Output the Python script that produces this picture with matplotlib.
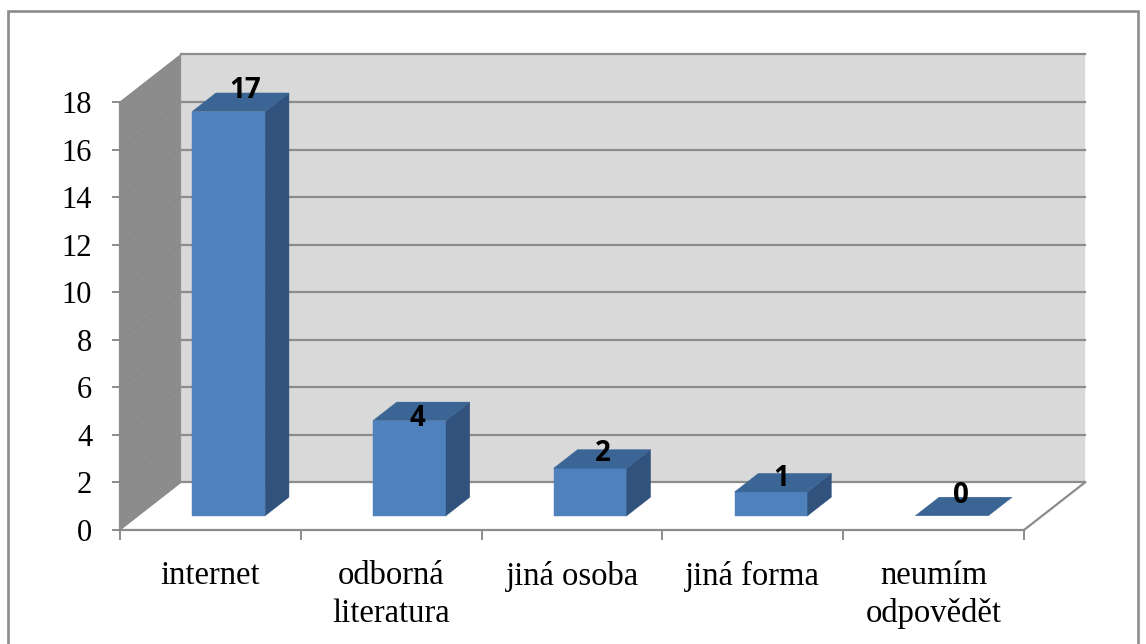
import matplotlib
matplotlib.use('Agg')
import matplotlib.pyplot as plt
from matplotlib.patches import Polygon, Rectangle

# Hodnoty grafu
kategorie = ['internet', 'odborná\nliteratura', 'jiná osoba', 'jiná forma', 'neumím\nodpovědět']
hodnoty = [17, 4, 2, 1, 0]
y_ticks = [0, 2, 4, 6, 8, 10, 12, 14, 16, 18]

# Posun popisku od stredu horni steny sloupce (px)
popisek_dx = [4, -4, 0, -2, -3]
popisek_dy = [11, -7, 5, 4, 11]

# Hloubka 3D prostoru v jednotkach os
HLOUBKA_X = 0.337
HLOUBKA_Y = 2.0
SIRKA = 0.404
PREDNI, ZADNI = 0.30, 0.69

SEDA = '#8c8c8c'
W, H = 1146, 644

fig = plt.figure(figsize=(W / 100, H / 100), dpi=100)
ax = fig.add_axes([120 / W, (H - 530) / H, 904 / W, 428 / H])
ax.set_xlim(0, len(kategorie))
ax.set_ylim(0, 18)
ax.patch.set_visible(False)


def bod(x, y, d=0.0):
    # promitnuti bodu do sikme projekce
    return (x + d * HLOUBKA_X, y + d * HLOUBKA_Y)


def plocha(body, barva, z=1):
    ax.add_patch(Polygon(body, closed=True, facecolor=barva, edgecolor=barva, lw=0.3,
                         clip_on=False, zorder=z))


n = len(kategorie)

# Zadni stena, bocni stena a podlaha
plocha([bod(0, 0, 1), bod(n, 0, 1), bod(n, 18, 1), bod(0, 18, 1)], '#d9d9d9')
plocha([bod(0, 0), bod(0, 0, 1), bod(0, 18, 1), bod(0, 18)], SEDA)

for t in y_ticks:
    x0, y0 = bod(0, t)
    x1, y1 = bod(0, t, 1)
    x2, y2 = bod(n, t, 1)
    ax.plot([x0, x1], [y0, y1], color='#878787', lw=0.6, clip_on=False, zorder=2)
    ax.plot([x1, x2], [y1, y2], color=SEDA, lw=1.6, clip_on=False, zorder=2)

# Hrana podlahy vpravo
x1, y1 = bod(n, 0, 1)
ax.plot([n, x1], [0, y1], color=SEDA, lw=1.6, clip_on=False, zorder=2)

# Sloupce
for i, v in enumerate(hodnoty):
    lx = i + 0.5 - SIRKA / 2
    px = i + 0.5 + SIRKA / 2
    if v > 0:
        plocha([bod(lx, 0, PREDNI), bod(px, 0, PREDNI), bod(px, v, PREDNI), bod(lx, v, PREDNI)],
               '#4f81bd', 3)
        plocha([bod(px, 0, PREDNI), bod(px, 0, ZADNI), bod(px, v, ZADNI), bod(px, v, PREDNI)],
               '#30527c', 3)
    plocha([bod(lx, v, PREDNI), bod(px, v, PREDNI), bod(px, v, ZADNI), bod(lx, v, ZADNI)],
           '#3a6595', 3)
    sx, sy = bod(i + 0.5, v, 0.5)
    ax.annotate(str(v), (sx, sy),
                xytext=(popisek_dx[i] * 0.72, popisek_dy[i] * 0.72), textcoords='offset points',
                ha='center', va='center', fontsize=20, fontweight='bold',
                family='Open Sans', color='black', annotation_clip=False, zorder=5)

# Osy
for s in ['top', 'right']:
    ax.spines[s].set_visible(False)
for s in ['left', 'bottom']:
    ax.spines[s].set_color(SEDA)
    ax.spines[s].set_linewidth(1.6)
    ax.spines[s].set_zorder(4)

ax.set_yticks(y_ticks)
ax.set_xticks(range(n + 1))
ax.set_xticks([i + 0.5 for i in range(n)], minor=True)
ax.set_xticklabels([])
ax.set_xticklabels(kategorie, minor=True, family='Liberation Serif', fontsize=23.5,
                   linespacing=1.3, color='black')
ax.tick_params(axis='x', which='major', length=7, width=1.4, color=SEDA)
ax.tick_params(axis='x', which='minor', length=0, pad=22)
ax.tick_params(axis='y', length=6, width=1.4, color=SEDA, pad=14)
for lab in ax.get_yticklabels():
    lab.set_family('Liberation Serif')
    lab.set_fontsize(22)

# Ramecek kolem grafu
fig.add_artist(Rectangle((8 / W, -10 / H), 1130 / W, (H - 11 + 10) / H, transform=fig.transFigure,
                         facecolor='none', edgecolor=SEDA, lw=1.9, zorder=10))

fig.savefig('out.png', dpi=100)
